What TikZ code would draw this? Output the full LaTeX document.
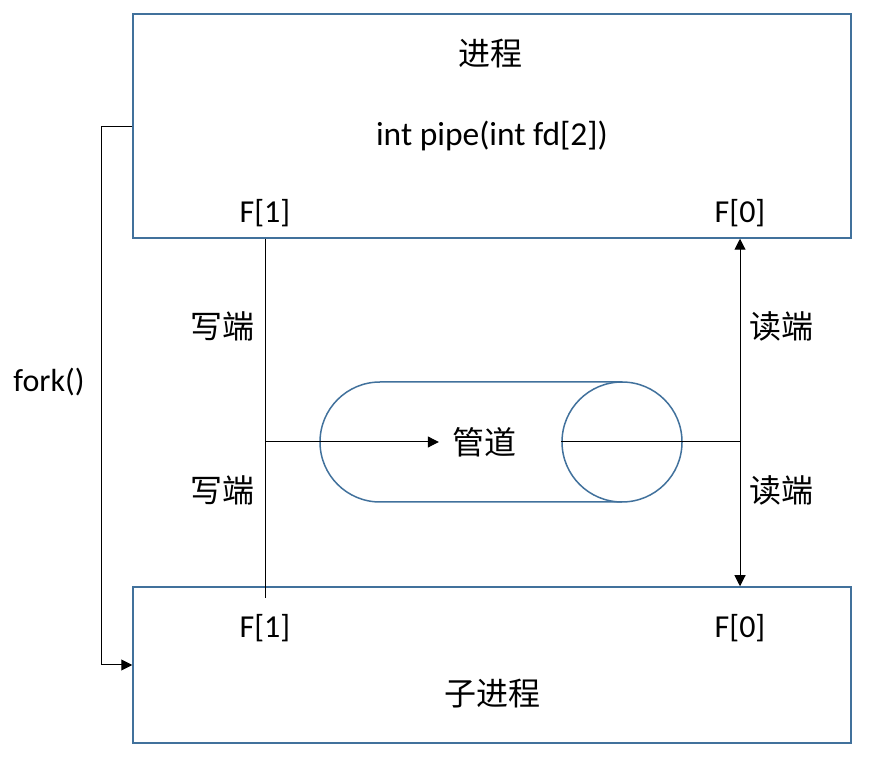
\documentclass[tikz,border=0pt]{standalone}
\usepackage{fontspec}
\setmainfont{Carlito}
\newfontfamily\cjk{Noto Sans CJK SC}
\usetikzlibrary{arrows.meta}
\definecolor{edge}{RGB}{65, 113, 156}

\begin{document}
\begin{tikzpicture}[%
        x=1pt, y=1pt,
        every node/.style={font=\fontsize{32}{38}\selectfont, inner sep=0pt},
        box/.style ={draw=edge, line width=1.5pt},
        lbl/.style={font=\fontsize{32}{38}\selectfont\cjk},
        wire/.style={line width=1pt},
        arr/.style={wire, -{Triangle[length=11pt, width=11pt]}}
        ]
        \useasboundingbox (0,0) rectangle (874,762);
        \node[box, minimum width=718, minimum height=224] (proc) at (492,636) {};
        \node[box, minimum width=718, minimum height=156] (child) at (492,97) {};
        \node[lbl] (ptitle) at (490,708) {进程};
        \node[font=\fontsize{33.5}{40}\selectfont] (call) at (492,626) {int pipe(int fd[2])};
        \node (pw) at (265,549) {F[1]};
        \node (pr) at (740,549) {F[0]};
        \node (cw) at (265,134) {F[1]};
        \node (cr) at (740,134) {F[0]};
        \node[lbl] (ctitle) at (492,68) {子进程};
        \node[lbl] (w1) at (222,436) {写端};
        \node[lbl] (w2) at (222,272) {写端};
        \node[lbl] (r1) at (781,436) {读端};
        \node[lbl] (r2) at (781,272) {读端};
        \node (fork) at (49,380) {fork()};
        % pipe
        \draw[draw=edge, line width=1.5pt, fill=white] (622,380) -- (380,380) arc (90:270:60) -- (622,260);
        \node[circle, draw=edge, line width=1.5pt, minimum size=120] (pend) at (622,320) {};
        \node[lbl] (pipe) at (484,320) {管道};
        \coordinate (wmid) at (265,320);
        \coordinate (wend) at (265,164);
        \coordinate (rmid) at (740,320);
        \coordinate (fk) at (101,635);
        \draw[wire] (proc.south -| wmid) -- (wend);
        \draw[arr] (wmid) -- ([xshift=-13pt]pipe.west);
        \draw[wire] (pend.west) -- (rmid);
        \draw[arr] (rmid) -- (proc.south -| rmid);
        \draw[arr] (rmid) -- (child.north -| rmid);
        \draw[arr] (proc.west |- fk) -- (fk) |- (child.west |- 0,97);
    \end{tikzpicture}
\end{document}
